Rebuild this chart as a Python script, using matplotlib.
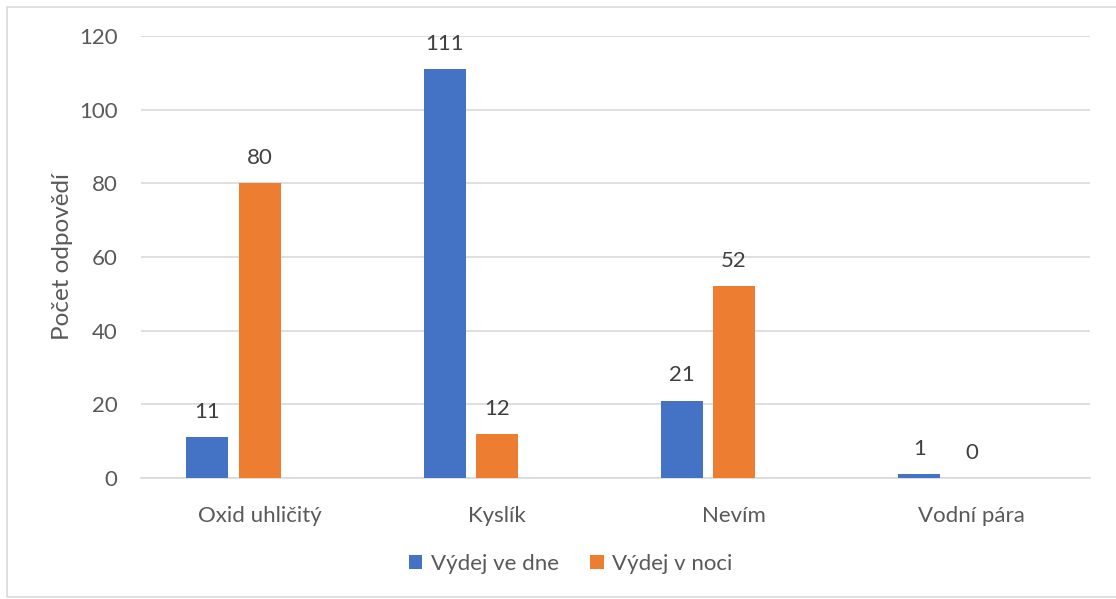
import matplotlib.pyplot as plt
from matplotlib.patches import Rectangle
import numpy as np

kategorie = ['Oxid uhličitý', 'Kyslík', 'Nevím', 'Vodní pára']
vydej_den = [11, 111, 21, 1]
vydej_noc = [80, 12, 52, 0]
serie = ['Výdej ve dne', 'Výdej v noci']
barvy = ['#4472C4', '#ED7D31']
seda = '#595959'

plt.rcParams['font.family'] = ['Lato', 'DejaVu Sans']

fig = plt.figure(figsize=(11.16, 5.99), dpi=100)
ax = fig.add_axes([0.1263, 0.202, 0.8504, 0.7379])

x = np.arange(len(kategorie))
sirka = 0.177
posun = [-0.22, 0.0]

for hodnoty, barva, p, nazev in zip([vydej_den, vydej_noc], barvy, posun, serie):
    sloupce = ax.bar(x + p, hodnoty, sirka, color=barva, label=nazev, zorder=3)
    for s, h in zip(sloupce, hodnoty):
        ax.annotate(str(h), (s.get_x() + s.get_width() / 2, h),
                    xytext=(0, 11), textcoords='offset points',
                    ha='center', va='bottom', fontsize=16, color='#404040')

ax.set_xlim(-0.5, len(kategorie) - 0.5)
ax.set_ylim(0, 120)
ax.set_yticks(range(0, 121, 20))
ax.set_xticks(x)
ax.set_xticklabels(kategorie)
ax.grid(axis='y', color='#D9D9D9', linewidth=1.2, zorder=0)
for strana in ['top', 'right', 'left']:
    ax.spines[strana].set_visible(False)
ax.spines['bottom'].set_color('#D9D9D9')
ax.spines['bottom'].set_linewidth(1.2)
ax.tick_params(axis='both', length=0, labelsize=16, colors=seda)
ax.tick_params(axis='x', pad=20)
ax.tick_params(axis='y', pad=17)
ax.set_ylabel('Počet odpovědí', fontsize=17.5, color=seda, labelpad=4)

ax.legend(loc='center', bbox_to_anchor=(0.453, -0.195), ncol=2, frameon=False,
          fontsize=16, labelcolor=seda, handlelength=0.6, handleheight=0.6,
          columnspacing=1.4, handletextpad=0.4)

fig.patches.append(Rectangle((7 / 1116, 2 / 599), 1.1, 590 / 599, transform=fig.transFigure,
                             fill=False, edgecolor='#D9D9D9', linewidth=1.2))

plt.savefig('out.png', dpi=100)
